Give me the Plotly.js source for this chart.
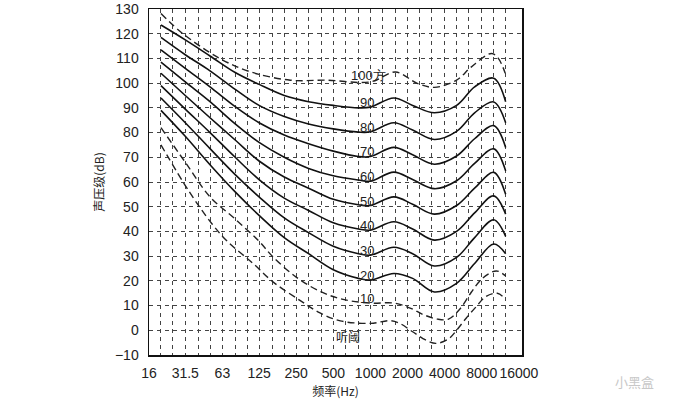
<!DOCTYPE html>
<html>
<head>
<meta charset="utf-8">
<script src="https://cdn.plot.ly/plotly-3.0.1.min.js"></script>
<style>
  html, body { margin: 0; padding: 0; background: #fff; }
  #plot { width: 683px; height: 405px; }
</style>
</head>
<body>
<div id="plot"></div>
<script>
// equal loudness contours

const freqSolid = [20, 31.5, 50, 80, 125, 200, 315, 500, 800, 1000, 1550, 2200, 3300, 5000, 7000, 10000, 12500];
const phon90 = [123.5, 117.5, 111, 104.3, 99.5, 95, 92.5, 91, 90, 90.3, 94, 91, 88, 91, 98.5, 102, 92.5];
const phon80 = [118.5, 111.5, 105, 97.5, 91, 86.5, 83.5, 81.5, 80.2, 80.3, 84, 81, 77.2, 80.5, 88, 92.4, 84];
const phon70 = [113.5, 106, 98.5, 90.5, 84, 79, 75.5, 72.5, 70.3, 70.3, 74, 71, 67.2, 70.5, 77.5, 82.8, 74];
const phon60 = [108.5, 100.5, 92.5, 83.5, 76, 70, 65.5, 62.5, 60.8, 60.3, 64, 61, 57.3, 60.5, 67.5, 73.4, 64.5];
const phon50 = [104, 95, 86, 77, 68.5, 62, 57.5, 53, 50.8, 50.5, 54, 51, 47, 50.5, 57.5, 63.9, 55];
const phon40 = [99, 89.5, 80, 70, 61, 53.5, 48.5, 43.5, 41, 40.5, 43.9, 41, 36.5, 40, 47.5, 54.4, 47];
const phon30 = [94, 84, 73.5, 63, 54, 45.5, 39.5, 34, 31, 30.4, 33.6, 31, 26, 29.5, 37.5, 44.7, 38];
const phon20 = [89, 78.5, 67, 56, 46.5, 37.5, 31, 24.5, 21, 20.3, 23, 21, 15.5, 19, 27, 34.9, 31];

const freq100 = [20, 30, 60, 106, 224, 445, 1000, 1600, 2400, 3300, 5000, 6600, 9600, 10900, 12400];
const phon100 = [128.2, 120.1, 110, 104.6, 101.2, 101.2, 100.5, 104.5, 99.9, 98.3, 101.2, 106.6, 112, 110, 104];

const freq10 = [20, 31.5, 50, 80, 125, 160, 250, 400, 600, 1000, 1550, 2100, 2700, 3500, 4300, 5300, 6600, 8100, 10500, 12500];
const phon10 = [82, 68, 54, 45, 36, 30, 21.5, 15.5, 12.5, 11, 11, 9, 6.3, 4.5, 4.5, 8.5, 15.5, 21, 24, 22];

const freqThr = [20, 34, 52, 69, 112, 163, 270, 390, 570, 1000, 1450, 1730, 2200, 2800, 3400, 4300, 5000, 6000, 7200, 8600, 10700, 12300];
const threshold = [75, 56, 43, 36, 27, 19.5, 12, 7, 3.8, 2.8, 3.9, 2.8, -0.6, -3.9, -5.3, -3.5, 0, 5, 9.5, 13.6, 15, 12.9];

const tickFreqs = [16, 31.5, 63, 125, 250, 500, 1000, 2000, 4000, 8000, 16000];
const tickLabels = ['16', '31.5', '63', '125', '250', '500', '1000', '2000', '4000', '8000', '16000'];
const thirdOctaves = [20, 25, 31.5, 40, 50, 63, 80, 100, 125, 160, 200, 250, 315, 400, 500, 630, 800,
  1000, 1250, 1600, 2000, 2500, 3150, 4000, 5000, 6300, 8000, 10000, 12500];
const dbGrid = [0, 10, 20, 30, 40, 50, 60, 70, 80, 90, 100, 110, 120];

const solidCurves = [phon90, phon80, phon70, phon60, phon50, phon40, phon30, phon20];
const curveLabels = ['90', '80', '70', '60', '50', '40', '30', '20'];

const data = [];
solidCurves.forEach(ys => {
  data.push({
    type: 'scatter', mode: 'lines',
    x: freqSolid, y: ys,
    line: { color: '#111', width: 1.6, shape: 'spline', smoothing: 1 },
    hoverinfo: 'skip', showlegend: false,
  });
});
[[freq100, phon100], [freq10, phon10], [freqThr, threshold]].forEach(([xs, ys]) => {
  data.push({
    type: 'scatter', mode: 'lines',
    x: xs, y: ys,
    line: { color: '#222', width: 1.4, dash: '7px,4px', shape: 'spline', smoothing: 1 },
    hoverinfo: 'skip', showlegend: false,
  });
});

const annotations = [];
const labelFont = { family: 'Liberation Sans, Arial, sans-serif', size: 13, color: '#222' };
curveLabels.forEach(t => {
  annotations.push({
    x: Math.log10(934), y: Number(t) + 2.2, text: t, showarrow: false, font: labelFont,
  });
});
annotations.push({ x: Math.log10(960), y: 103.2, text: '100方', showarrow: false, font: labelFont });
annotations.push({ x: Math.log10(934), y: 12.9, text: '10', showarrow: false, font: labelFont });
annotations.push({
  x: Math.log10(663), y: -2.6, text: '听阈', showarrow: false,
  font: { family: 'Noto Sans CJK SC, sans-serif', size: 12, color: '#222' },
});
annotations.push({
  xref: 'paper', yref: 'paper', x: 1.36, y: -0.11, xanchor: 'right',
  text: '小黑盒', showarrow: false,
  font: { family: 'Noto Sans CJK SC, sans-serif', size: 13, color: '#c8c8c8' },
});

const gridStyle = { showgrid: true, gridcolor: '#444', gridwidth: 1, griddash: '4px,4px' };
const tickFont = { family: 'Liberation Sans, Arial, sans-serif', size: 14, color: '#222' };

const layout = {
  width: 683, height: 405,
  margin: { l: 149, r: 161, t: 9, b: 50 },
  paper_bgcolor: '#fff', plot_bgcolor: '#fff',
  font: { family: 'Liberation Sans, Arial, sans-serif', size: 13, color: '#222' },
  showlegend: false,
  xaxis: {
    type: 'log',
    range: [Math.log10(16), Math.log10(16) + 10.05 * Math.log10(2)],
    tickmode: 'array', tickvals: tickFreqs, ticktext: tickLabels, tickfont: tickFont,
    tickangle: 0,
    showgrid: false, zeroline: false,
    showline: true, mirror: true, linecolor: '#111', linewidth: 1.5,
    ticks: '', ticklabelstandoff: 5,
    minor: Object.assign({ tickmode: 'array', tickvals: thirdOctaves, ticks: '' }, gridStyle),
    title: { text: '频率(Hz)', font: { family: 'Noto Sans CJK SC, sans-serif', size: 12, color: '#222' }, standoff: 7 },
  },
  yaxis: {
    range: [-10, 130],
    tickmode: 'linear', tick0: -10, dtick: 10, tickfont: tickFont,
    showgrid: false, zeroline: false,
    showline: true, mirror: true, linecolor: '#111', linewidth: 1.5,
    ticks: '', ticklabelstandoff: 6,
    minor: Object.assign({ tickmode: 'array', tickvals: dbGrid, ticks: '' }, gridStyle),
    title: { text: '声压级(dB)', font: { family: 'Noto Sans CJK SC, sans-serif', size: 12, color: '#222' }, standoff: 8 },
  },
  annotations: annotations,
};

Plotly.newPlot('plot', data, layout, { staticPlot: true });
</script>
</body>
</html>
